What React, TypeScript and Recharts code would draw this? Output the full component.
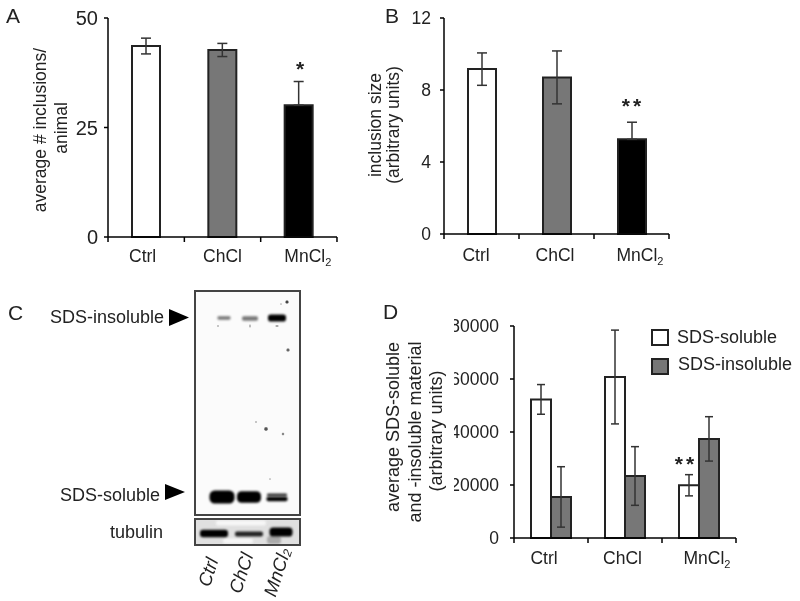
import * as React from 'react';
import {
  BarChart,
  Bar,
  Cell,
  XAxis,
  YAxis,
  ErrorBar,
  Legend,
  ScatterChart,
  Scatter
} from 'recharts';

const FONT = '"Liberation Sans", Arial, sans-serif';
const INK = '#222';

const groups = ['Ctrl', 'ChCl', 'MnCl2'];
const fills = ['#ffffff', '#777777', '#000000'];

// panel A
const inclusionCount = [43.6, 42.7, 30.1];
const inclusionCountLow = [1.8, 1.5, 0];
const inclusionCountHigh = [1.8, 1.5, 5.4];
const inclusionCountTicks = [0, 25, 50];

// panel B
const inclusionSize = [9.16, 8.7, 5.26];
const inclusionSizeLow = [0.9, 1.47, 0];
const inclusionSizeHigh = [0.9, 1.47, 0.95];
const inclusionSizeTicks = [0, 4, 8, 12];

// panel D
const solubleName = 'SDS-soluble';
const insolubleName = 'SDS-insoluble';
const soluble = [52300, 60750, 19900];
const solubleErr = [5600, 17700, 4000];
const insoluble = [15500, 23400, 37400];
const insolubleErr = [11400, 11070, 8375];
const materialTicks = [0, 20000, 40000, 60000, 80000];

// panel C: blot bands, read in pixels from the frame's top left corner
const membraneX = [28, 54, 81, 26, 53, 81, 81, 91, 85, 92, 70, 87, 60, 74, 22, 54, 81];
const membraneY = [26, 26.5, 26, 205, 205, 203, 207, 10, 12, 58, 137, 142, 130, 187, 34, 34, 34];
const membraneW = [13, 16, 18, 25, 24, 20, 21, 3, 1.5, 3, 3.4, 2.4, 2, 1.6, 2, 2, 3];
const membraneH = [3.5, 4.5, 7, 13, 11.5, 3, 4.5, 3, 1.5, 3, 3.4, 2.4, 2, 1.6, 2, 3, 2];
const membraneShade = ['#777', '#777', '#000', '#000', '#000', '#333', '#000', '#444', '#aaa', '#666', '#555', '#888', '#bbb', '#aaa', '#bbb', '#bbb', '#aaa'];

const tubulinX = [45, 42, 78, 18, 53, 85];
const tubulinY = [3, 21, 20, 13.5, 14, 12];
const tubulinW = [50, 30, 14, 28, 28, 23];
const tubulinH = [5, 5, 8, 7.5, 5, 9];
const tubulinShade = ['#f6f6f6', '#f6f6f6', '#aaa', '#000', '#222', '#000'];

const countData = groups.map((name, i) => ({
  name,
  value: inclusionCount[i],
  err: [inclusionCountLow[i], inclusionCountHigh[i]]
}));
const sizeData = groups.map((name, i) => ({
  name,
  value: inclusionSize[i],
  err: [inclusionSizeLow[i], inclusionSizeHigh[i]]
}));
const materialData = groups.map((name, i) => ({
  name,
  soluble: soluble[i],
  solubleErr: solubleErr[i],
  insoluble: insoluble[i],
  insolubleErr: insolubleErr[i]
}));
const membraneBands = membraneX.map((x, i) => ({
  x,
  y: membraneY[i],
  w: membraneW[i],
  h: membraneH[i],
  shade: membraneShade[i]
}));
const tubulinBands = tubulinX.map((x, i) => ({
  x,
  y: tubulinY[i],
  w: tubulinW[i],
  h: tubulinH[i],
  shade: tubulinShade[i]
}));

function GroupTick(props: any): React.ReactElement {
  const { x, y, payload, band, nudge, drop } = props;
  const i = groups.indexOf(payload.value);
  const isMn = payload.value === 'MnCl2';
  return (
    <g>
      <line x1={x - band / 2} x2={x - band / 2} y1={y} y2={y + 5} stroke="#000" strokeWidth={1.5} />
      {i === groups.length - 1 && (
        <line x1={x + band / 2} x2={x + band / 2} y1={y} y2={y + 5} stroke="#000" strokeWidth={1.5} />
      )}
      <text x={x + nudge[i]} y={y + drop} textAnchor="middle" fontFamily={FONT} fontSize={17.5} fill={INK}>
        {isMn ? 'MnCl' : payload.value}
        {isMn && (
          <tspan fontSize={11} dy={4}>
            2
          </tspan>
        )}
      </text>
    </g>
  );
}

function BandShape(props: any): React.ReactElement {
  const { cx, cy, payload } = props;
  const { w, h, shade } = payload;
  return (
    <rect
      x={cx - w / 2}
      y={cy - h / 2}
      width={w}
      height={h}
      rx={Math.min(w, h) / 2.5}
      fill={shade}
      style={{ filter: `blur(${w > 4 ? 1 : 0.5}px)` }}
    />
  );
}

function box(left: number, top: number): React.CSSProperties {
  return { position: 'absolute', left, top };
}

function yTick(fontSize: number) {
  return { fontSize, fill: INK, fontFamily: FONT };
}

function SingleBars(props: {
  left: number;
  top: number;
  width: number;
  height: number;
  axisWidth: number;
  marginTop: number;
  data: typeof countData;
  domain: [number, number];
  ticks: number[];
  band: number;
  nudge: number[];
  drop: number;
  tickFont: number;
  tickGap: number;
}): React.ReactElement {
  const { left, top, width, height, axisWidth, marginTop, data, domain, ticks, band, nudge, drop, tickFont, tickGap } = props;
  return (
    <div style={box(left, top)}>
      <BarChart width={width} height={height} data={data} margin={{ top: marginTop, right: 10, bottom: 0, left: 0 }}>
        <XAxis
          dataKey="name"
          height={40}
          interval={0}
          tickSize={0}
          tickMargin={0}
          axisLine={{ stroke: '#000', strokeWidth: 1.5 }}
          tick={<GroupTick band={band} nudge={nudge} drop={drop} />}
        />
        <YAxis
          width={axisWidth}
          domain={domain}
          ticks={ticks}
          interval={0}
          tickSize={4}
          tickMargin={tickGap}
          axisLine={{ stroke: '#000', strokeWidth: 1.5 }}
          tickLine={{ stroke: '#000', strokeWidth: 1.5 }}
          tick={yTick(tickFont)}
        />
        <Bar dataKey="value" barSize={28} stroke="#222" strokeWidth={2} isAnimationActive={false}>
          {data.map((d, i) => (
            <Cell key={d.name} fill={fills[i]} />
          ))}
          <ErrorBar dataKey="err" width={5} stroke="#333" strokeWidth={1.5} isAnimationActive={false} />
        </Bar>
      </BarChart>
    </div>
  );
}

function MaterialLegend(props: any): React.ReactElement {
  const rows: any[] = [...(props.payload ?? [])].sort(
    (a, b) => [solubleName, insolubleName].indexOf(a.value) - [solubleName, insolubleName].indexOf(b.value)
  );
  return (
    <div style={{ fontFamily: FONT, fontSize: 18, color: INK, whiteSpace: 'nowrap' }}>
      {rows.map((row, i) => (
        <div key={row.value} style={{ display: 'flex', alignItems: 'center', height: 29 }}>
          <span
            style={{
              display: 'inline-block',
              width: 14,
              height: 13,
              marginRight: 8,
              border: '2px solid #222',
              background: row.color
            }}
          />
          <span style={{ position: 'relative', top: i === 0 ? 0 : -2.5, left: i === 0 ? 0 : 1 }}>{row.value}</span>
        </div>
      ))}
    </div>
  );
}

function Blot(props: {
  top: number;
  height: number;
  background: string;
  data: typeof membraneBands;
}): React.ReactElement {
  const { top, height, background, data } = props;
  return (
    <div
      style={{
        ...box(196, top),
        width: 103,
        height,
        background,
        outline: '2px solid #444',
        overflow: 'hidden'
      }}
    >
      <ScatterChart width={103} height={height} margin={{ top: 0, right: 0, bottom: 0, left: 0 }}>
        <XAxis type="number" dataKey="x" domain={[0, 103]} hide />
        <YAxis type="number" dataKey="y" domain={[0, height]} reversed hide />
        <Scatter data={data} shape={<BandShape />} isAnimationActive={false} />
      </ScatterChart>
    </div>
  );
}

function Annotations(): React.ReactElement {
  const vertical = (x: number, y: number, text: string, size = 17.5) => (
    <text
      transform={`translate(${x} ${y}) rotate(-90)`}
      textAnchor="middle"
      dominantBaseline="central"
      fontSize={size}
    >
      {text}
    </text>
  );
  const slanted = (x: number, y: number, text: string, sub?: string) => (
    <text
      transform={`translate(${x} ${y}) rotate(-72)`}
      textAnchor="middle"
      dominantBaseline="central"
      fontSize={18.5}
      fontStyle="italic"
    >
      {text}
      {sub && (
        <tspan fontSize={12} dy={4}>
          {sub}
        </tspan>
      )}
    </text>
  );
  return (
    <svg
      width={800}
      height={601}
      style={{ position: 'absolute', left: 0, top: 0, pointerEvents: 'none' }}
      fontFamily={FONT}
      fill={INK}
    >
      <text x={6} y={23} fontSize={21}>A</text>
      <text x={385} y={23} fontSize={21}>B</text>
      <text x={8} y={320} fontSize={21}>C</text>
      <text x={383} y={319} fontSize={21}>D</text>

      {vertical(40, 130, 'average # inclusions/')}
      {vertical(61, 128, 'animal')}
      {vertical(375, 125, 'inclusion size')}
      {vertical(393, 125, '(arbitrary units)')}
      {vertical(393, 427, 'average SDS-soluble', 18)}
      {vertical(415, 432, 'and -insoluble material', 18)}
      {vertical(436, 431, '(arbitrary units)', 18)}

      <text x={300} y={76} textAnchor="middle" fontSize={21} fontWeight="bold">*</text>
      <text x={633} y={113} textAnchor="middle" fontSize={21} fontWeight="bold" letterSpacing={3}>**</text>
      <text x={686} y={471} textAnchor="middle" fontSize={21} fontWeight="bold" letterSpacing={3}>**</text>

      <text x={164} y={323} textAnchor="end" fontSize={18}>SDS-insoluble</text>
      <text x={160} y={501} textAnchor="end" fontSize={18}>SDS-soluble</text>
      <text x={163} y={538} textAnchor="end" fontSize={18}>tubulin</text>
      <polygon points="169,309 189,317.5 169,326" fill="#000" />
      <polygon points="165,484 185,492 165,500" fill="#000" />

      {slanted(208, 572, 'Ctrl')}
      {slanted(241, 573, 'ChCl')}
      {slanted(277, 572, 'MnCl', '2')}
    </svg>
  );
}

export default function App(): React.ReactElement {
  return (
    <div
      style={{
        position: 'absolute',
        left: 0,
        top: 0,
        width: 800,
        height: 601,
        background: '#fff',
        overflow: 'hidden',
        filter: 'blur(0.35px)'
      }}
    >
      <SingleBars
        left={60}
        top={8}
        width={287}
        height={269}
        axisWidth={48}
        marginTop={10}
        data={countData}
        domain={[0, 50]}
        ticks={inclusionCountTicks}
        band={76.3}
        nudge={[-3.5, 0, 9]}
        drop={25}
        tickFont={20}
        tickGap={6}
      />
      <SingleBars
        left={404}
        top={8}
        width={275}
        height={266}
        axisWidth={40}
        marginTop={10}
        data={sizeData}
        domain={[0, 12]}
        ticks={inclusionSizeTicks}
        band={75}
        nudge={[-5.5, -1.5, 8.5]}
        drop={27}
        tickFont={17.5}
        tickGap={9}
      />

      <Blot top={292} height={222} background="#fbfbfb" data={membraneBands} />
      <Blot top={520} height={24} background="#e0e0e0" data={tubulinBands} />

      <div style={box(454, 316)}>
        <BarChart
          width={292}
          height={262}
          data={materialData}
          barGap={0}
          margin={{ top: 10, right: 10, bottom: 0, left: 0 }}
        >
          <XAxis
            dataKey="name"
            height={40}
            interval={0}
            tickSize={0}
            tickMargin={0}
            axisLine={{ stroke: '#000', strokeWidth: 1.5 }}
            tick={<GroupTick band={74} nudge={[-7, -2.5, 8]} drop={26} />}
          />
          <YAxis
            width={60}
            domain={[0, 80000]}
            ticks={materialTicks}
            interval={0}
            tickSize={4}
            tickMargin={11}
            axisLine={{ stroke: '#000', strokeWidth: 1.5 }}
            tickLine={{ stroke: '#000', strokeWidth: 1.5 }}
            tick={yTick(17.5)}
          />
          <Legend
            layout="horizontal"
            verticalAlign="middle"
            align="center"
            wrapperStyle={{ left: 197, top: 7, width: 148, height: 58 }}
            content={<MaterialLegend />}
          />
          <Bar
            dataKey="soluble"
            name={solubleName}
            barSize={20}
            fill="#ffffff"
            stroke="#222"
            strokeWidth={2}
            isAnimationActive={false}
          >
            <ErrorBar dataKey="solubleErr" width={4} stroke="#333" strokeWidth={1.5} isAnimationActive={false} />
          </Bar>
          <Bar
            dataKey="insoluble"
            name={insolubleName}
            barSize={20}
            fill="#777777"
            stroke="#222"
            strokeWidth={2}
            isAnimationActive={false}
          >
            <ErrorBar dataKey="insolubleErr" width={4} stroke="#333" strokeWidth={1.5} isAnimationActive={false} />
          </Bar>
        </BarChart>
      </div>

      <Annotations />
    </div>
  );
}
